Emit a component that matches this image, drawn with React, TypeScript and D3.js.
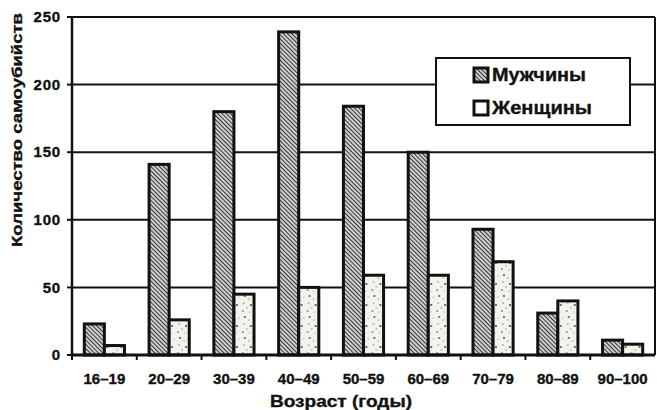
import React from "react";
import * as d3 from "d3";

const ageGroups = ["16–19", "20–29", "30–39", "40–49", "50–59", "60–69", "70–79", "80–89", "90–100"];
const menValues = [23, 141, 180, 239, 184, 150, 93, 31, 11];
const womenValues = [7, 26, 45, 50, 59, 59, 69, 40, 8];
const yTicks = [0, 50, 100, 150, 200, 250];
const seriesNames = ["Мужчины", "Женщины"];

const W = 657;
const H = 410;
const margin = { left: 72, right: 2, top: 17, bottom: 55 };
const FONT = "'Liberation Sans', Arial, sans-serif";
const INK = "#111";

// speckle positions inside the women's pattern tile
const speckles: [number, number, number][] = [
  [3, 2, 0.9], [7, 5, 0.7], [2, 9, 0.8], [9, 11, 1.0], [5, 14, 0.7],
  [11, 3, 0.6], [1, 17, 0.8], [8, 18, 0.6],
];

// heavy text helper props
const heavy = { fontWeight: "bold" as const, fill: INK, stroke: INK, strokeWidth: 0.35 };

export default function App() {
  const x0 = d3
    .scaleBand<string>()
    .domain(ageGroups)
    .range([margin.left, W - margin.right])
    .paddingInner(0)
    .paddingOuter(0);
  const pairWidth = x0.bandwidth() * 0.62;
  const x1 = d3
    .scaleBand<string>()
    .domain(seriesNames)
    .range([0, pairWidth]);
  const y = d3
    .scaleLinear()
    .domain([0, 250])
    .range([H - margin.bottom, margin.top]);

  const plotRight = W - margin.right;
  const bottom = y(0);

  return (
    <svg
      width={W}
      height={H}
      style={{ position: "absolute", left: 0, top: 0, background: "#fff" }}
      fontFamily={FONT}
    >
      <defs>
        <pattern
          id="hatch"
          width="3"
          height="3"
          patternUnits="userSpaceOnUse"
          patternTransform="rotate(-45)"
        >
          <rect width="3" height="3" fill="#cfcfcf" />
          <line x1="0" y1="0" x2="0" y2="3" stroke="#1a1a1a" strokeWidth="1.7" />
        </pattern>
        <pattern id="speckle" width="14" height="21" patternUnits="userSpaceOnUse">
          <rect width="14" height="21" fill="#f4f2ec" />
          {speckles.map(([cx, cy, r], i) => (
            <circle key={i} cx={cx} cy={cy} r={r} fill={i % 3 === 0 ? "#4a3c30" : "#85857a"} />
          ))}
        </pattern>
      </defs>

      {/* horizontal gridlines */}
      {yTicks.map((t) => (
        <line
          key={t}
          x1={margin.left}
          x2={plotRight}
          y1={y(t)}
          y2={y(t)}
          stroke={INK}
          strokeWidth={2}
        />
      ))}
      {/* right border of plot */}
      <line x1={plotRight} x2={plotRight} y1={y(250)} y2={bottom} stroke={INK} strokeWidth={2} />

      {/* bars */}
      {ageGroups.map((g, i) => {
        const gx = (x0(g) ?? 0) + (x0.bandwidth() - pairWidth) / 2;
        return (
          <g key={g} transform={`translate(${gx},0)`}>
            <rect
              x={x1(seriesNames[0])}
              y={y(menValues[i])}
              width={x1.bandwidth()}
              height={bottom - y(menValues[i])}
              fill="url(#hatch)"
              stroke={INK}
              strokeWidth={3}
            />
            <rect
              x={x1(seriesNames[1])}
              y={y(womenValues[i])}
              width={x1.bandwidth()}
              height={bottom - y(womenValues[i])}
              fill="url(#speckle)"
              stroke={INK}
              strokeWidth={3}
            />
          </g>
        );
      })}

      {/* y axis */}
      <line x1={margin.left} x2={margin.left} y1={y(250)} y2={bottom} stroke={INK} strokeWidth={2.5} />
      {yTicks.map((t) => (
        <g key={t}>
          <line x1={margin.left - 5} x2={margin.left} y1={y(t)} y2={y(t)} stroke={INK} strokeWidth={2} />
          <text
            x={margin.left - 11}
            y={y(t)}
            dy="0.35em"
            textAnchor="end"
            fontSize={15}
            letterSpacing={0.8}
            {...heavy}
          >
            {t}
          </text>
        </g>
      ))}

      {/* x axis */}
      <line x1={margin.left} x2={plotRight} y1={bottom} y2={bottom} stroke={INK} strokeWidth={3} />
      {ageGroups.map((g) => (
        <line
          key={g}
          x1={x0(g)}
          x2={x0(g)}
          y1={bottom}
          y2={bottom + 5}
          stroke={INK}
          strokeWidth={2}
        />
      ))}
      {ageGroups.map((g) => (
        <text
          key={g}
          x={(x0(g) ?? 0) + x0.bandwidth() / 2}
          y={378.5}
          dy="0.35em"
          textAnchor="middle"
          fontSize={15}
          {...heavy}
        >
          {g}
        </text>
      ))}

      {/* axis titles */}
      <text
        x={341}
        y={407}
        textAnchor="middle"
        fontSize={16.5}
        textLength={142}
        lengthAdjust="spacingAndGlyphs"
        {...heavy}
      >
        Возраст (годы)
      </text>
      <text
        transform={`translate(17,${130}) rotate(-90)`}
        textAnchor="middle"
        dy="0.35em"
        fontSize={15.5}
        textLength={234}
        lengthAdjust="spacingAndGlyphs"
        {...heavy}
      >
        Количество самоубийств
      </text>

      {/* legend */}
      <g>
        <rect x={436} y={58} width={194} height={67} fill="#fff" stroke={INK} strokeWidth={2} />
        <rect x={474} y={68} width={14} height={14} fill="url(#hatch)" stroke={INK} strokeWidth={3} />
        <text
          x={492}
          y={75}
          dy="0.35em"
          fontSize={18.5}
          textLength={94}
          lengthAdjust="spacingAndGlyphs"
          {...heavy}
        >
          {seriesNames[0]}
        </text>
        <rect x={474} y={101} width={14} height={14} fill="#fff" stroke={INK} strokeWidth={3} />
        <text
          x={492}
          y={108}
          dy="0.35em"
          fontSize={18.5}
          textLength={100}
          lengthAdjust="spacingAndGlyphs"
          {...heavy}
        >
          {seriesNames[1]}
        </text>
      </g>
    </svg>
  );
}
